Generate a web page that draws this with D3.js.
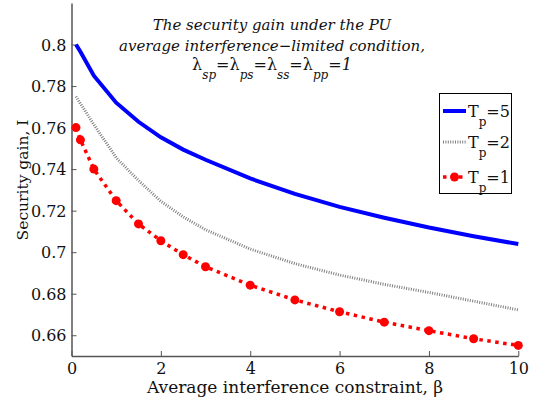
<!DOCTYPE html>
<html>
<head>
<meta charset="utf-8">
<script src="https://d3js.org/d3.v7.min.js"></script>
<style>
  body { margin: 0; background: #fff; }
  svg text { fill: #111; }
</style>
</head>
<body>
<svg id="chart" width="540" height="398"></svg>
<script>
// values
const beta = [0.1, 0.2, 0.5, 1, 1.5, 2, 2.5, 3, 4, 5, 6, 7, 8, 9, 10];
const gainTp5 = [0.800, 0.7965, 0.785, 0.772, 0.7628, 0.7553, 0.7494, 0.7445, 0.7355, 0.7281, 0.7218, 0.7166, 0.7119, 0.7077, 0.7039];
const gainTp2 = [0.775, 0.7715, 0.7615, 0.7455, 0.7345, 0.7245, 0.717, 0.7108, 0.7015, 0.6945, 0.689, 0.6845, 0.6806, 0.6764, 0.6722];
const gainTp1 = [0.760, 0.7541, 0.740, 0.7248, 0.7136, 0.7055, 0.6988, 0.693, 0.6841, 0.677, 0.6713, 0.6663, 0.6622, 0.6583, 0.6551];
const xTicks = [0, 2, 4, 6, 8, 10];
const yTicks = [0.66, 0.68, 0.7, 0.72, 0.74, 0.76, 0.78, 0.8];
const legendLabels = ["5", "2", "1"];

const serif = "DejaVu Serif";
const svg = d3.select("#chart");
const x = d3.scaleLinear().domain([0, 10]).range([71.5, 518.3]);
const y = d3.scaleLinear().domain([0.65, 0.82]).range([356, 3]);

// axes (ticks inward, only left and bottom)
const xAxis = svg.append("g").attr("transform", "translate(0,356)")
  .call(d3.axisBottom(x).tickValues(xTicks).tickSizeInner(-5).tickSizeOuter(0).tickPadding(6).tickFormat(d3.format("d")));
const yAxis = svg.append("g").attr("transform", "translate(71.5,0)")
  .call(d3.axisLeft(y).tickValues(yTicks).tickSizeInner(-5).tickSizeOuter(0).tickPadding(5).tickFormat(d => String(+d.toFixed(2))));
[xAxis, yAxis].forEach(a => {
  a.attr("font-family", serif).attr("font-size", 16);
  a.selectAll(".domain").attr("stroke", "#555").attr("stroke-width", 1.5);
  a.selectAll(".tick line").attr("stroke", "#555");
  a.selectAll("text").attr("fill", "#111");
});
xAxis.selectAll("text").attr("y", 18).attr("dy", 0);
yAxis.selectAll("text").attr("dy", "0.35em");

const line = d3.line().x((d, i) => x(beta[i])).y(d => y(d));

svg.append("path").datum(gainTp2).attr("d", line)
  .attr("fill", "none").attr("stroke", "#808080").attr("stroke-width", 3).attr("stroke-dasharray", "1,1.4");
svg.append("path").datum(gainTp1).attr("d", line)
  .attr("fill", "none").attr("stroke", "#ff0000").attr("stroke-width", 3.5).attr("stroke-dasharray", "3.5,4.5");
svg.append("path").datum(gainTp5).attr("d", line)
  .attr("fill", "none").attr("stroke", "#0000ff").attr("stroke-width", 4);
svg.selectAll("circle.pt").data(gainTp1).join("circle")
  .attr("class", "pt")
  .attr("cx", (d, i) => x(beta[i])).attr("cy", d => y(d)).attr("r", 4.5).attr("fill", "#ff0000");

// title
const title = svg.append("text").attr("text-anchor", "middle").attr("font-family", serif)
  .attr("font-style", "italic").attr("font-size", 15);
title.append("tspan").attr("x", 272).attr("y", 30).text("The security gain under the PU");
title.append("tspan").attr("x", 272).attr("y", 51).text("average interference\u2212limited condition,");
const t3 = svg.append("text").attr("text-anchor", "middle").attr("font-family", serif)
  .attr("font-style", "italic").attr("font-size", 16).attr("x", 272).attr("y", 70);
const subs = ["sp", "ps", "ss", "pp"];
subs.forEach((s, i) => {
  t3.append("tspan").attr("font-style", "normal").attr("dy", i === 0 ? 0 : -9).text((i === 0 ? "" : "=") + "\u03bb");
  t3.append("tspan").attr("font-size", 12).attr("dy", 9).text(s);
});
t3.append("tspan").attr("dy", -9).text("=1");

// axis labels
svg.append("text").attr("x", 295).attr("y", 393).attr("text-anchor", "middle")
  .attr("font-family", serif).attr("font-size", 17)
  .text("Average interference constraint, \u03b2");
svg.append("text").attr("transform", "translate(28,180) rotate(-90)").attr("text-anchor", "middle")
  .attr("font-family", serif).attr("font-size", 15.5)
  .text("Security gain, I");

// legend
const lg = svg.append("g");
lg.append("rect").attr("x", 439.5).attr("y", 93.5).attr("width", 72).attr("height", 100)
  .attr("fill", "#fff").attr("stroke", "#000").attr("stroke-width", 1);
const legendY = [111, 142, 177];
const styles = [
  { stroke: "#0000ff", w: 4, dash: null },
  { stroke: "#808080", w: 3, dash: "1,1.4" },
  { stroke: "#ff0000", w: 3.5, dash: "3.5,4.5" }
];
legendLabels.forEach((lab, i) => {
  const st = styles[i];
  lg.append("line").attr("x1", 443).attr("x2", 466).attr("y1", legendY[i]).attr("y2", legendY[i])
    .attr("stroke", st.stroke).attr("stroke-width", st.w).attr("stroke-dasharray", st.dash);
  if (i === 2) lg.append("circle").attr("cx", 454.5).attr("cy", legendY[i]).attr("r", 4.5).attr("fill", "#ff0000");
  const t = lg.append("text").attr("x", 468).attr("y", legendY[i] + 6)
    .attr("font-family", serif).attr("font-size", 16);
  t.append("tspan").text("T");
  t.append("tspan").attr("font-size", 12).attr("dy", 9).text("p");
  t.append("tspan").attr("dy", -9).text("=" + lab);
});
</script>
</body>
</html>
